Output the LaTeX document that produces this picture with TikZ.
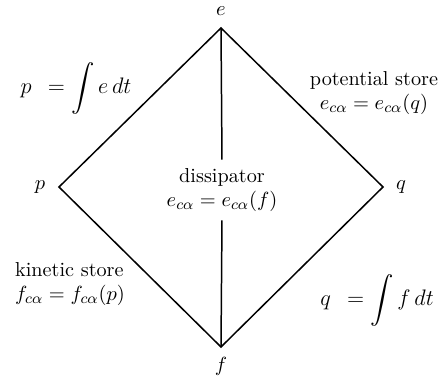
\documentclass[tikz,border=0pt]{standalone}
\usepackage{amsmath}
\usepackage{amssymb}

\begin{document}
\begin{tikzpicture}[x=0.535pt,y=-0.535pt,font=\fontsize{10.8}{12.5}\selectfont]
            \useasboundingbox (0,0) rectangle (441,381);

            \coordinate (top) at (221,28);
            \coordinate (left) at (59,187);
            \coordinate (right) at (383,187);
            \coordinate (bot) at (221,347);

            \node (e) at (221,11) {\(e\)};
            \node (f) at (221,366) {\(f\)};
            \node (p) at (40,187) {\(p\)};
            \node (q) at (401,187) {\(q\)};

            \node (diss) [align=center, inner sep=0pt, minimum height=32pt] at (222,190)
                {dissipator\\\(e_{c\alpha}=e_{c\alpha}(f)\)};
            \node (pot) [align=center, inner sep=0pt] at (374,93)
                {potential store\\\(e_{c\alpha}=e_{c\alpha}(q)\)};
            \node (kin) [align=left, inner sep=0pt] at (70,284)
                {kinetic store\\\(f_{c\alpha}=f_{c\alpha}(p)\)};
            \node (pint) [font=\fontsize{12.5}{14}\selectfont] at (76,88) {\(\displaystyle p\;\,=\int e\,dt\)};
            \node (qint) [font=\fontsize{12.5}{14}\selectfont] at (377,300) {\(\displaystyle q\;\,=\int f\,dt\)};

            \draw[thick] (top) -- (left) -- (bot) -- (right) -- cycle;
            \draw[thick] (top) -- (diss.north);
            \draw[thick] (diss.south) -- (bot);
        \end{tikzpicture}
\end{document}
